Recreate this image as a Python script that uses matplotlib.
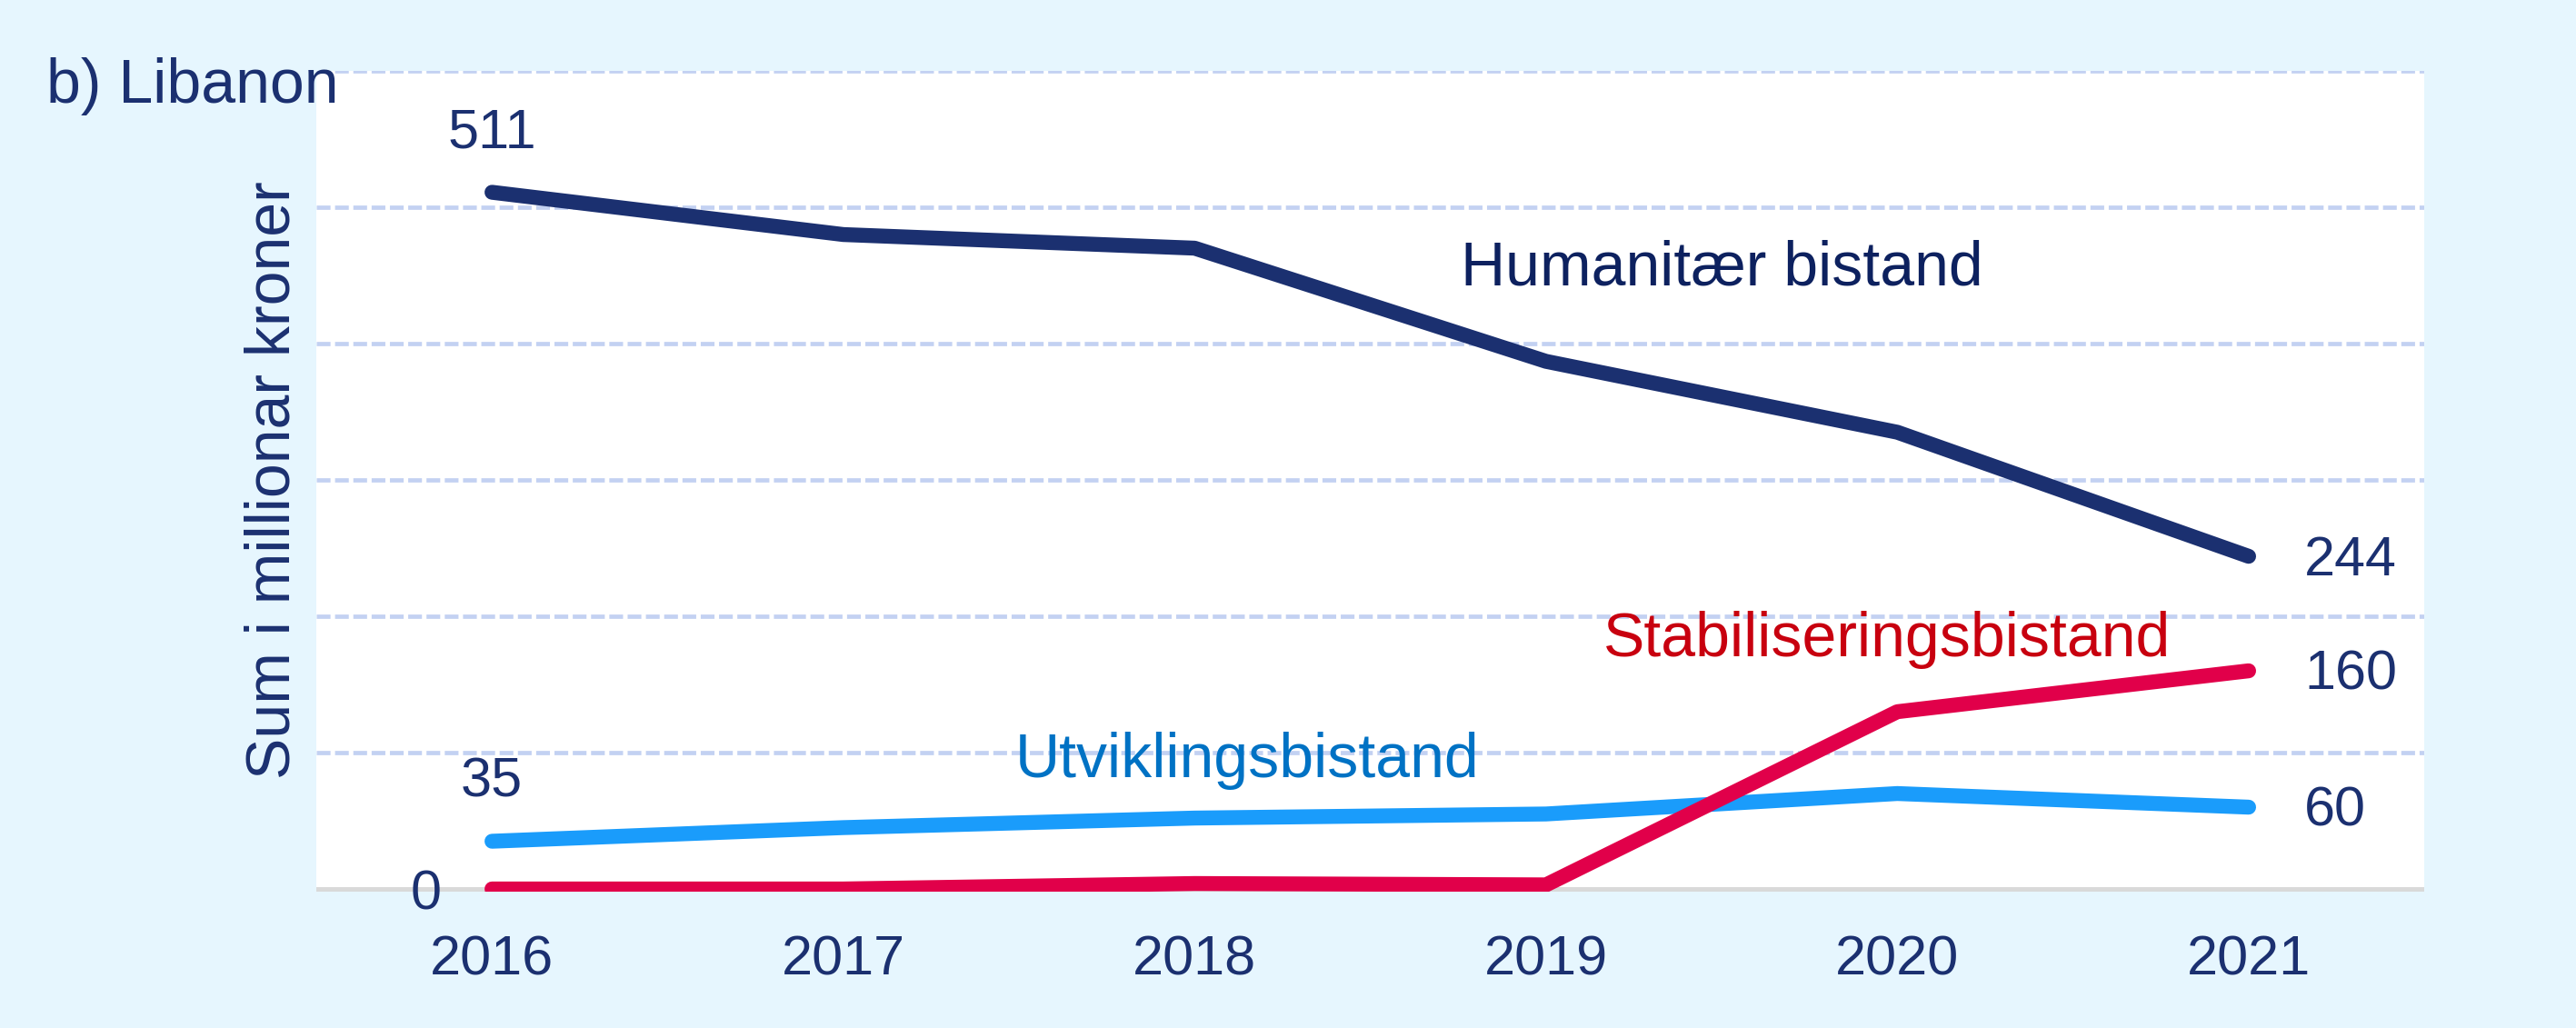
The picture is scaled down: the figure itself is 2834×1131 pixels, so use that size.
import matplotlib.pyplot as plt

# ------------------------------------------------------------------
# data (millioner kroner, Libanon)
# ------------------------------------------------------------------
years = [2016, 2017, 2018, 2019, 2020, 2021]
humanitaer = [511, 480, 470, 387, 335, 244]
utvikling = [35, 45, 52, 55, 70, 60]
stabilisering = [0, 0, 4, 3, 130, 160]

series_names = ["Humanitær bistand", "Utviklingsbistand", "Stabiliseringsbistand"]

# ------------------------------------------------------------------
# style
# ------------------------------------------------------------------
plt.rcParams['font.family'] = ['Liberation Sans', 'DejaVu Sans']

navy = '#1B3070'
navy_text = '#0D215F'
blue_line = '#1A9CFB'
blue_text = '#0072C4'
red_line = '#E1004A'
red_text = '#C8000F'
bg = '#E6F6FE'
grid_col = '#C3D1F2'

fig = plt.figure(figsize=(28.34, 11.31), dpi=100, facecolor=bg)
ax = fig.add_axes([0.1228, 0.1326, 0.8183, 0.7984])
ax.set_facecolor('white')

# gridlines
for g in range(100, 601, 100):
    ax.axhline(g, color=grid_col, lw=3.4, dashes=(3.2, 1.06), zorder=1)
ax.axhline(0, color='#D9D9D9', lw=3.6, zorder=1)

lw = 11.8
ax.plot(years, humanitaer, color=navy, lw=lw, solid_capstyle='round', zorder=3)
ax.plot(years, utvikling, color=blue_line, lw=lw, solid_capstyle='round', zorder=3)
ax.plot(years, stabilisering, color=red_line, lw=lw, solid_capstyle='round', zorder=3)

ax.set_xlim(2015.5, 2021.5)
ax.set_ylim(-2, 600)

# start values (left)
for v in [humanitaer[0], utvikling[0]]:
    ax.annotate(str(v), (years[0], v), xytext=(0, 35), textcoords='offset points',
                ha='center', va='baseline', fontsize=44, color=navy)
ax.annotate(str(stabilisering[0]), (years[0], stabilisering[0]), xytext=(-40, -16),
            textcoords='offset points', ha='right', va='baseline', fontsize=44, color=navy)

# end values (right)
for v in [humanitaer[-1], stabilisering[-1], utvikling[-1]]:
    ax.annotate(str(v), (years[-1], v), xytext=(44, -15), textcoords='offset points',
                ha='left', va='baseline', fontsize=44, color=navy)

# series labels
ax.text(2019.5, 443, series_names[0], ha='center', va='baseline', fontsize=49, color=navy_text)
ax.text(2018.15, 82, series_names[1], ha='center', va='baseline', fontsize=49, color=blue_text)
ax.text(2019.97, 171, series_names[2], ha='center', va='baseline', fontsize=49, color=red_text)

ax.set_xticks(years)
ax.set_xticklabels([str(y) for y in years])
ax.set_yticks([])
ax.tick_params(axis='x', length=0, pad=34, labelsize=44, labelcolor=navy)
for s in ax.spines.values():
    s.set_visible(False)

fig.text(0.1059, 0.533, "Sum i millionar kroner", rotation=90, ha='center', va='center',
         fontsize=49, color=navy)
fig.text(0.018, 0.9001, "b) Libanon", ha='left', va='baseline', fontsize=49, color=navy)

fig.savefig('out.png', dpi=100, facecolor=bg)
